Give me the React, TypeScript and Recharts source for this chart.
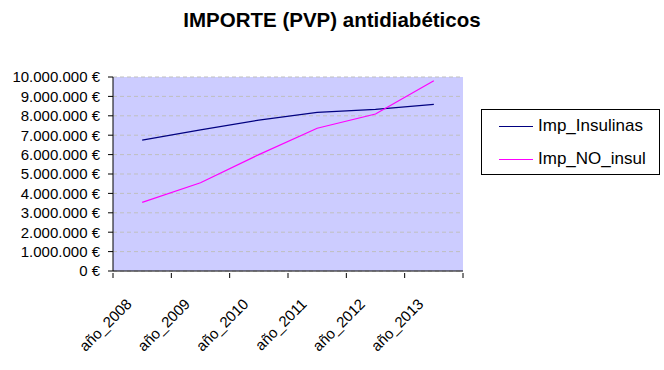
import { LineChart, Line, XAxis, YAxis, CartesianGrid } from "recharts"

const years = ["año_2008", "año_2009", "año_2010", "año_2011", "año_2012", "año_2013"]
const insulinas = [6750000, 7270000, 7780000, 8180000, 8330000, 8590000]
const noInsul = [3540000, 4550000, 6000000, 7360000, 8090000, 9810000]
const yTicks = [0, 1000000, 2000000, 3000000, 4000000, 5000000, 6000000, 7000000, 8000000, 9000000, 10000000]

const data = years.map((year, i) => ({
  year,
  Imp_Insulinas: insulinas[i],
  Imp_NO_insul: noInsul[i],
}))

const FONT = "'Liberation Sans', Arial, sans-serif"
const PLOT_W = 350

const euro = (v: number) => `${String(v).replace(/\B(?=(\d{3})+(?!\d))/g, ".")} €`

function YearTick(props: any) {
  const { x, y, payload } = props
  const off = payload.offset ?? PLOT_W / years.length / 2
  const last = payload.value === years[years.length - 1]
  const ax = x - 9.5
  const ay = y + 32
  return (
    <g>
      <line x1={x - off} y1={y} x2={x - off} y2={y + 5} stroke="#000" />
      {last && <line x1={x + off} y1={y} x2={x + off} y2={y + 5} stroke="#000" />}
      <text
        x={ax}
        y={ay}
        textAnchor="end"
        fontSize={15}
        fontFamily={FONT}
        fill="#000"
        transform={`rotate(-45, ${ax}, ${ay})`}
      >
        {payload.value}
      </text>
    </g>
  )
}

export default function App() {
  return (
    <div style={{ position: "absolute", left: 0, top: 0, width: 664, height: 370, background: "#fff", fontFamily: FONT }}>
      <div style={{ position: "absolute", left: 0, top: 8, width: 664, textAlign: "center", fontSize: 20.5, fontWeight: "bold" }}>
        IMPORTE (PVP) antidiabéticos
      </div>
      <LineChart width={664} height={370} data={data} margin={{ top: 77, right: 201, bottom: 0, left: 0 }}>
        <CartesianGrid vertical={false} fill="#CCCCFF" stroke="#BFBFBF" strokeDasharray="4 3" />
        <XAxis
          dataKey="year"
          scale="band"
          height={99}
          tickSize={0}
          tickLine={false}
          axisLine={{ stroke: "#000" }}
          tick={<YearTick />}
          interval={0}
        />
        <XAxis xAxisId="top" orientation="top" dataKey="year" height={0} tick={false} tickLine={false} axisLine={{ stroke: "#808080" }} />
        <YAxis
          width={113}
          domain={[0, 10000000]}
          ticks={yTicks}
          interval={0}
          tickFormatter={euro}
          tickSize={5}
          tickMargin={8}
          axisLine={{ stroke: "#000" }}
          tickLine={{ stroke: "#000" }}
          tick={{ fill: "#000", fontSize: 15, fontFamily: FONT }}
        />
        <YAxis yAxisId="right" orientation="right" width={0} domain={[0, 10000000]} tick={false} tickLine={false} axisLine={{ stroke: "#808080" }} />
        <Line type="linear" dataKey="Imp_Insulinas" stroke="#000080" strokeWidth={1.2} dot={false} isAnimationActive={false} />
        <Line type="linear" dataKey="Imp_NO_insul" stroke="#FF00FF" strokeWidth={1.2} dot={false} isAnimationActive={false} />
      </LineChart>
      <div
        style={{
          position: "absolute",
          left: 481,
          top: 109,
          width: 177,
          height: 64,
          border: "1px solid #000",
          fontSize: 17,
        }}
      >
        {[
          { name: "Imp_Insulinas", color: "#000080" },
          { name: "Imp_NO_insul", color: "#FF00FF" },
        ].map((s, i) => (
          <div key={s.name} style={{ position: "absolute", left: 17, top: 6 + i * 33, height: 20, display: "flex", alignItems: "center" }}>
            <span style={{ display: "inline-block", width: 34, height: 1, background: s.color, marginRight: 5 }} />
            <span>{s.name}</span>
          </div>
        ))}
      </div>
    </div>
  )
}
